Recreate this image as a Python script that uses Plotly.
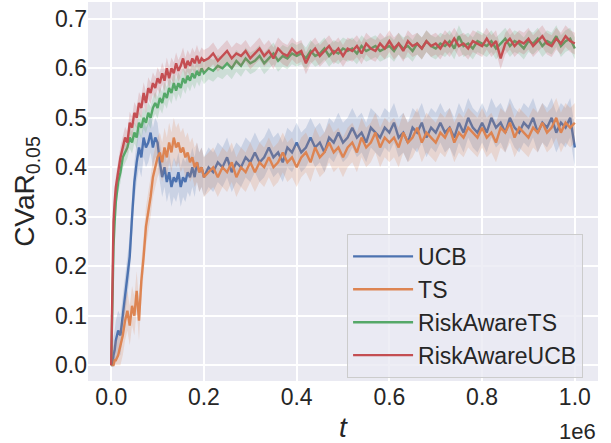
import numpy as np
import plotly.graph_objects as go

# x grid (units of 1e6)
t_early = [0.0, 0.0025, 0.005, 0.0075] + [round(v, 4) for v in np.arange(0.01, 0.2001, 0.005)]
t_late = [round(v, 2) for v in np.arange(0.21, 1.0001, 0.01)]
t = t_early + t_late

ucb = [0.0, 0.0, 0.02, 0.03, 0.05, 0.07, 0.06, 0.10, 0.13, 0.17,
       0.22, 0.30, 0.37, 0.41, 0.44, 0.42, 0.46, 0.44, 0.45, 0.47,
       0.44, 0.46, 0.45, 0.41, 0.38, 0.40, 0.37, 0.39, 0.36, 0.38,
       0.37, 0.39, 0.36, 0.38, 0.37, 0.39, 0.38, 0.40, 0.38, 0.41,
       0.39, 0.40, 0.38,
       0.40, 0.39, 0.41, 0.40, 0.42, 0.39, 0.41, 0.40, 0.42, 0.41,
       0.43, 0.41, 0.42, 0.44, 0.42, 0.43, 0.41, 0.44, 0.43, 0.45,
       0.43, 0.44, 0.46, 0.44, 0.45, 0.43, 0.46, 0.45, 0.47, 0.45,
       0.46, 0.48, 0.46, 0.47, 0.45, 0.48, 0.47, 0.46, 0.48, 0.47,
       0.49, 0.46, 0.47, 0.45, 0.48, 0.47, 0.49, 0.46, 0.48, 0.47,
       0.49, 0.47, 0.48, 0.46, 0.49, 0.47, 0.50, 0.48, 0.47, 0.49,
       0.47, 0.50, 0.48, 0.49, 0.47, 0.50, 0.48, 0.47, 0.49, 0.48,
       0.50, 0.47, 0.49, 0.48, 0.50, 0.47, 0.49, 0.48, 0.50, 0.44]

ts = [0.0, 0.0, 0.0, 0.01, 0.01, 0.02, 0.04, 0.06, 0.09, 0.11,
      0.08, 0.12, 0.10, 0.15, 0.09, 0.17, 0.22, 0.28, 0.31, 0.34,
      0.38, 0.40, 0.42, 0.43, 0.41, 0.44, 0.42, 0.45, 0.43, 0.46,
      0.44, 0.45, 0.43, 0.44, 0.42, 0.43, 0.41, 0.42, 0.40, 0.41,
      0.39, 0.40, 0.38,
      0.39, 0.40, 0.38, 0.40, 0.39, 0.41, 0.38, 0.40, 0.39, 0.41,
      0.39, 0.41, 0.40, 0.42, 0.40, 0.41, 0.43, 0.41, 0.42, 0.40,
      0.42, 0.43, 0.41, 0.44, 0.42, 0.43, 0.45, 0.43, 0.44, 0.42,
      0.44, 0.45, 0.43, 0.46, 0.44, 0.45, 0.47, 0.44, 0.46, 0.45,
      0.46, 0.44, 0.47, 0.45, 0.46, 0.48, 0.45, 0.47, 0.46, 0.45,
      0.47, 0.46, 0.48, 0.45, 0.47, 0.46, 0.48, 0.47, 0.46, 0.48,
      0.46, 0.47, 0.45, 0.48, 0.47, 0.49, 0.46, 0.48, 0.47, 0.46,
      0.48, 0.47, 0.49, 0.47, 0.48, 0.50, 0.47, 0.49, 0.48, 0.49]

ra_ts = [0.0, 0.15, 0.24, 0.29, 0.33, 0.37, 0.39, 0.42, 0.43, 0.44,
         0.46, 0.45, 0.47, 0.46, 0.49, 0.48, 0.50, 0.49, 0.51, 0.50,
         0.52, 0.53, 0.52, 0.54, 0.53, 0.55, 0.54, 0.56, 0.55, 0.57,
         0.555, 0.57, 0.56, 0.58, 0.57, 0.585, 0.575, 0.59, 0.58, 0.595,
         0.585, 0.60, 0.59,
         0.60, 0.595, 0.605, 0.60, 0.61, 0.60, 0.615, 0.605, 0.62, 0.61,
         0.615, 0.625, 0.61, 0.62, 0.63, 0.615, 0.625, 0.62, 0.63, 0.625,
         0.63, 0.62, 0.635, 0.625, 0.63, 0.64, 0.625, 0.635, 0.63, 0.64,
         0.635, 0.64, 0.63, 0.645, 0.635, 0.64, 0.645, 0.635, 0.64, 0.645,
         0.635, 0.65, 0.64, 0.645, 0.635, 0.65, 0.64, 0.655, 0.645, 0.64,
         0.65, 0.645, 0.655, 0.64, 0.665, 0.645, 0.65, 0.64, 0.655, 0.65,
         0.645, 0.655, 0.64, 0.65, 0.66, 0.645, 0.655, 0.65, 0.64, 0.655,
         0.65, 0.66, 0.645, 0.655, 0.65, 0.665, 0.645, 0.655, 0.66, 0.64]

ra_ucb = [0.0, 0.21, 0.29, 0.33, 0.36, 0.39, 0.42, 0.44, 0.46, 0.45,
          0.49, 0.48, 0.51, 0.50, 0.53, 0.52, 0.55, 0.53, 0.56, 0.55,
          0.57, 0.56, 0.58, 0.57, 0.59, 0.575, 0.60, 0.58, 0.60, 0.59,
          0.61, 0.595, 0.605, 0.62, 0.60, 0.615, 0.605, 0.62, 0.61, 0.625,
          0.61, 0.62, 0.615,
          0.62, 0.63, 0.615, 0.625, 0.635, 0.62, 0.63, 0.625, 0.635, 0.62,
          0.63, 0.64, 0.625, 0.635, 0.62, 0.64, 0.63, 0.625, 0.64, 0.63,
          0.635, 0.61, 0.63, 0.64, 0.625, 0.635, 0.645, 0.63, 0.64, 0.625,
          0.64, 0.635, 0.645, 0.63, 0.65, 0.64, 0.635, 0.65, 0.64, 0.655,
          0.64, 0.65, 0.635, 0.655, 0.645, 0.65, 0.64, 0.655, 0.645, 0.65,
          0.64, 0.655, 0.645, 0.66, 0.645, 0.65, 0.64, 0.655, 0.65, 0.645,
          0.66, 0.645, 0.655, 0.62, 0.65, 0.66, 0.645, 0.655, 0.65, 0.66,
          0.645, 0.655, 0.665, 0.65, 0.645, 0.66, 0.65, 0.665, 0.655, 0.65]

names = ["UCB", "TS", "RiskAwareTS", "RiskAwareUCB"]
spreads = [0.04, 0.04, 0.022, 0.022]
x_ticks = [0.0, 0.2, 0.4, 0.6, 0.8, 1.0]
y_ticks = [0.0, 0.1, 0.2, 0.3, 0.4, 0.5, 0.6, 0.7]

series = [ucb, ts, ra_ts, ra_ucb]
for s in series:
    assert len(s) == len(t), (len(s), len(t))

colors = ["#4C72B0", "#DD8452", "#55A868", "#C44E52"]
fills = ["rgba(76,114,176,0.2)", "rgba(221,132,82,0.2)",
         "rgba(85,168,104,0.2)", "rgba(196,78,82,0.2)"]

FONT = "Liberation Sans, Arial, sans-serif"
FS = 23
fig = go.Figure()
for name, y, sp, c, fc in zip(names, series, spreads, colors, fills):
    y = np.array(y)
    lo = np.clip(y - sp, 0, None)
    hi = y + sp
    fig.add_trace(go.Scatter(x=t, y=hi, mode="lines", line=dict(width=0),
                             showlegend=False, hoverinfo="skip"))
    fig.add_trace(go.Scatter(x=t, y=lo, mode="lines", line=dict(width=0),
                             fill="tonexty", fillcolor=fc,
                             showlegend=False, hoverinfo="skip"))
    fig.add_trace(go.Scatter(x=t, y=y, mode="lines", name=name,
                             line=dict(color=c, width=2.4)))

fig.update_layout(
    width=611, height=443,
    margin=dict(l=88, r=13, t=2, b=62),
    paper_bgcolor="white", plot_bgcolor="#EAEAF2",
    font=dict(family=FONT, size=FS, color="#262626"),
    xaxis=dict(range=[-0.05, 1.05], tickvals=x_ticks, tickformat=".1f",
               showgrid=True, gridcolor="white", gridwidth=1.5,
               zeroline=False, showline=False, ticks="", automargin=False,
               title=dict(text="<i>t</i>", standoff=10)),
    yaxis=dict(range=[-0.032, 0.734], tickvals=y_ticks, tickformat=".1f",
               showgrid=True, gridcolor="white", gridwidth=1.5,
               zeroline=False, showline=False, ticks="", automargin=False,
               title=dict(text="CVaR<sub>0.05</sub>", standoff=12)),
    legend=dict(x=0.508, y=0.388, xanchor="left", yanchor="top",
                traceorder="normal", itemwidth=60,
                bgcolor="rgba(234,234,242,0.8)", bordercolor="#cccccc",
                borderwidth=1, font=dict(size=FS)),
    annotations=[dict(text="1e6", xref="paper", yref="paper", x=1.0, y=-0.095,
                      xanchor="right", yanchor="top", showarrow=False,
                      font=dict(size=22))],
)
fig.write_html("out.html", config={"displayModeBar": False},
               post_script="document.body.style.margin='0';document.body.style.overflow='hidden';")
